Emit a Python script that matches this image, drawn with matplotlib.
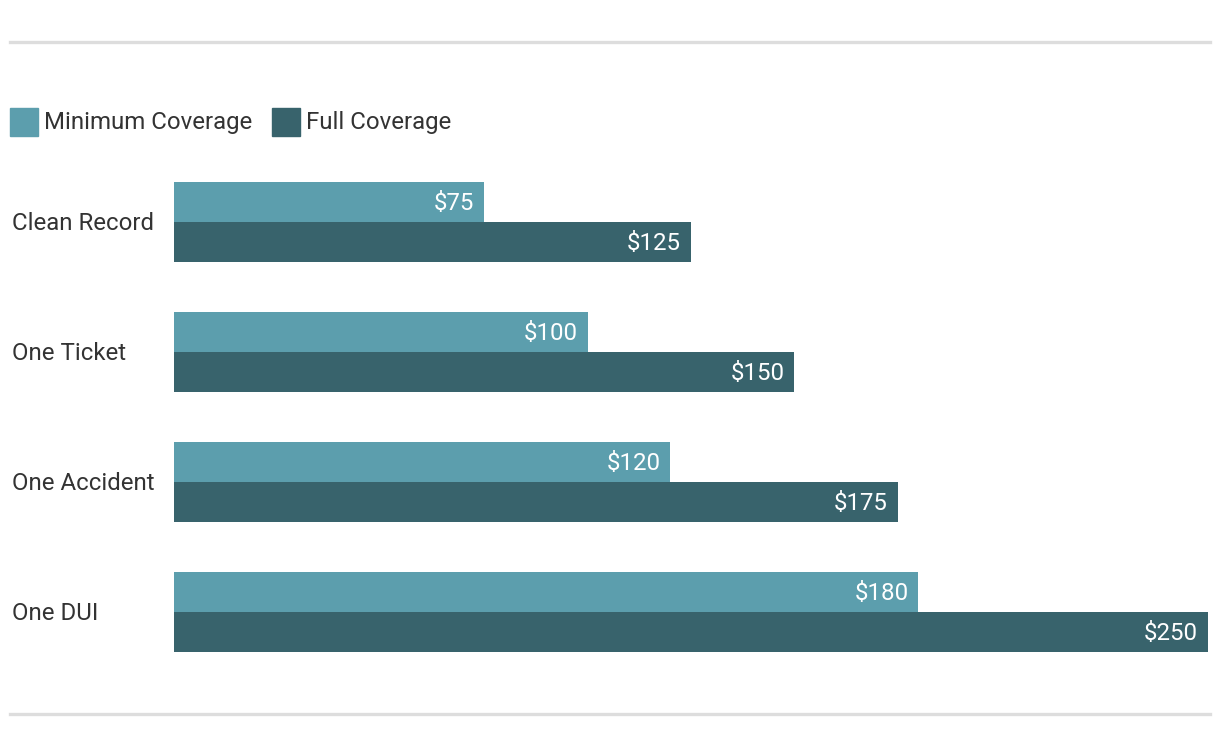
import matplotlib
matplotlib.use('Agg')
import matplotlib.pyplot as plt
from matplotlib.patches import Rectangle
from matplotlib.lines import Line2D

plt.rcParams['font.family'] = ['Roboto', 'DejaVu Sans']

categories = ['Clean Record', 'One Ticket', 'One Accident', 'One DUI']
minimum = [75, 100, 120, 180]
full = [125, 150, 175, 250]
series_names = ['Minimum Coverage', 'Full Coverage']
colors = ['#5c9ead', '#38636c']

W, H = 1220, 748
fig = plt.figure(figsize=(W / 100, H / 100), dpi=100)

# axes in pixel coords: bars start at x=174, 250 ends at 1208; bars span y 182..652
ax = fig.add_axes([174 / W, 1 - 652 / H, (1208 - 174) / W, (652 - 182) / H])
bh = 40 / 130
ys = list(range(len(categories)))
ax.barh([y - bh / 2 for y in ys], minimum, height=bh, color=colors[0])
ax.barh([y + bh / 2 for y in ys], full, height=bh, color=colors[1])
ax.set_xlim(0, 250)
ax.set_ylim(3 + bh, -bh)
ax.axis('off')

fs = 17.3
dy = 0.015  # nudge labels down a bit
for y, v in zip(ys, minimum):
    ax.text(v - 2.4, y - bh / 2 + dy, f'${v}', color='white', fontsize=fs,
            ha='right', va='center')
for y, v in zip(ys, full):
    ax.text(v - 2.4, y + bh / 2 + dy, f'${v}', color='white', fontsize=fs,
            ha='right', va='center')
for y, c in zip(ys, categories):
    fig.text(12 / W, 1 - (224 + 130 * y) / H, c, fontsize=fs, color='#333333',
             ha='left', va='center')

# top and bottom rules
for yy in (42, 714):
    fig.add_artist(Line2D([10 / W, 1210 / W], [1 - yy / H] * 2, color='#dddddd',
                          lw=2.4, transform=fig.transFigure))

# legend
for x0, tx, name, col in [(10, 44, series_names[0], colors[0]),
                          (272, 306, series_names[1], colors[1])]:
    fig.add_artist(Rectangle((x0 / W, 1 - 136 / H), 28 / W, 28 / H, color=col,
                             transform=fig.transFigure))
    fig.text(tx / W, 1 - 122 / H, name, fontsize=fs, color='#333333',
             ha='left', va='center')

fig.savefig('out.png', dpi=100, facecolor='white')
